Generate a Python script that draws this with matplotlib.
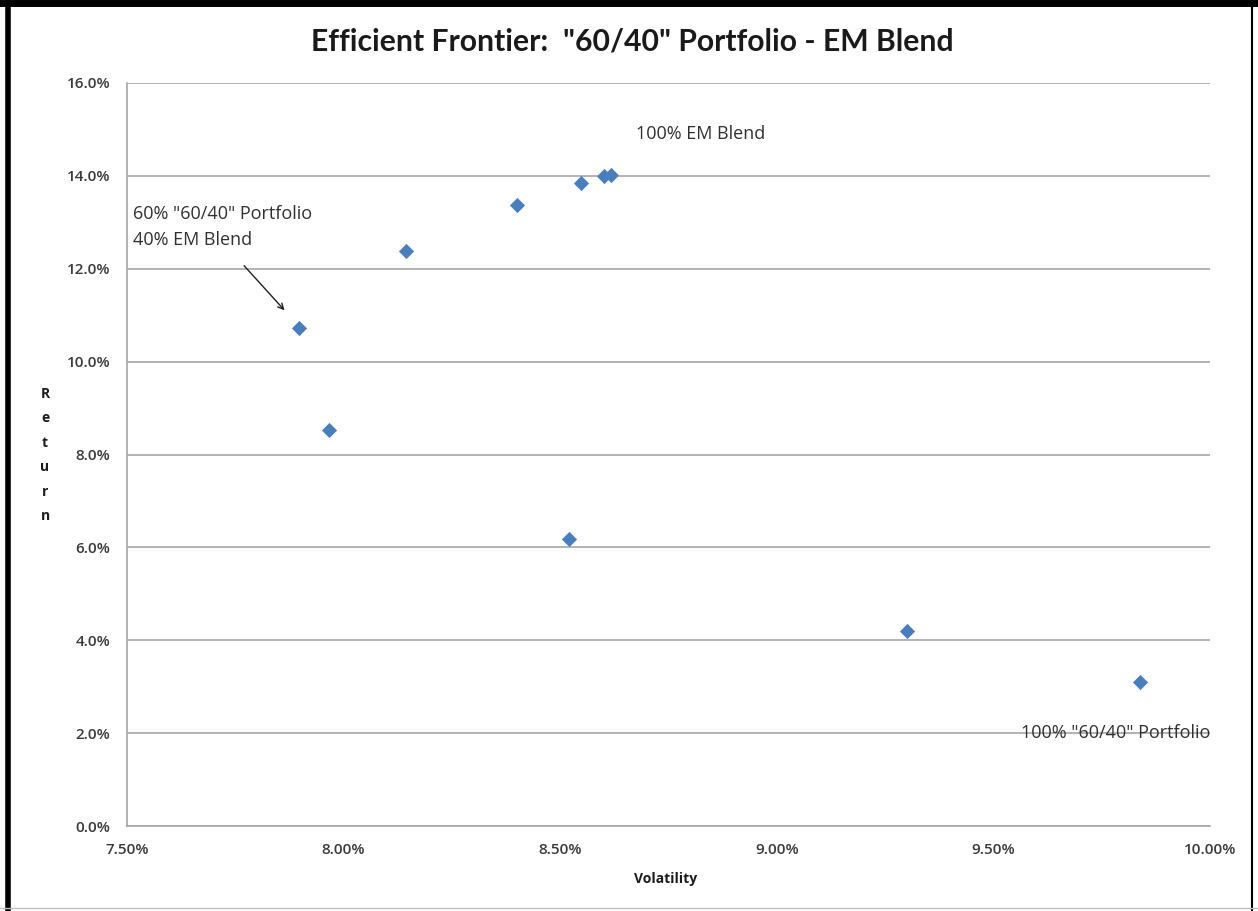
import matplotlib
matplotlib.use("Agg")
import matplotlib.pyplot as plt
from matplotlib.lines import Line2D
from matplotlib.ticker import FuncFormatter

# Portfolio mixes: volatility (%) and return (%)
volatility = [7.897, 7.966, 8.144, 8.400, 8.548, 8.601, 8.617, 8.520, 9.300, 9.838]
returns = [10.72, 8.53, 12.38, 13.37, 13.85, 14.00, 14.02, 6.18, 4.20, 3.10]

x_ticks = [7.50, 8.00, 8.50, 9.00, 9.50, 10.00]
y_ticks = [0, 2, 4, 6, 8, 10, 12, 14, 16]

title = 'Efficient Frontier:  "60/40" Portfolio - EM Blend'

plt.rcParams['font.family'] = ['Open Sans', 'DejaVu Sans']

fig = plt.figure(figsize=(12.58, 9.11), dpi=100)
W, H = 1258, 911
ax = fig.add_axes([127 / W, 1 - 826 / H, (1210 - 127) / W, (826 - 83) / H])

ax.scatter(volatility, returns, marker='D', s=60, color='#4a7ebb', zorder=3,
           linewidths=0)

ax.set_xlim(x_ticks[0], x_ticks[-1])
ax.set_ylim(y_ticks[0], y_ticks[-1])
ax.set_xticks(x_ticks)
ax.set_yticks(y_ticks)
ax.xaxis.set_major_formatter(FuncFormatter(lambda v, p: f"{v:.2f}%"))
ax.yaxis.set_major_formatter(FuncFormatter(lambda v, p: f"{v:.1f}%"))
ax.tick_params(axis='both', length=0, labelsize=11, colors='#3a3a3a')
for lbl in ax.get_xticklabels() + ax.get_yticklabels():
    lbl.set_fontweight('semibold')
ax.tick_params(axis='x', pad=12)
ax.tick_params(axis='y', pad=12)
ax.grid(axis='y', color='#a6a6a6', linewidth=1.2)
ax.set_axisbelow(True)
for s in ['top', 'right']:
    ax.spines[s].set_visible(False)
for s in ['left', 'bottom']:
    ax.spines[s].set_color('#a6a6a6')
    ax.spines[s].set_linewidth(1.2)

# Annotations
note_kw = dict(fontsize=13, color='#303030', va='center')
ax.text(8.675, 14.9, '100% EM Blend', ha='left', **note_kw)
ax.text(7.513, 12.9, '60% "60/40" Portfolio\n40% EM Blend', ha='left',
        linespacing=1.55, **note_kw)
ax.annotate('', xy=(7.868, 11.06), xytext=(7.766, 12.11),
            arrowprops=dict(arrowstyle='->', color='#202020', lw=1.0))
ax.text(10.0, 2.0, '100% "60/40" Portfolio', ha='right', **note_kw)

fig.text(632 / W, 1 - 42 / H, title, fontsize=21.7, fontweight='bold',
         ha='center', va='center', color='#1a1a1a',
         family=['Lato', 'DejaVu Sans'])
fig.text(666 / W, 1 - 879 / H, 'Volatility', fontsize=10, fontweight='bold',
         ha='center', va='center', color='#1a1a1a')
fig.text(45 / W, 1 - 455 / H, 'R\ne\nt\nu\nr\nn', fontsize=10,
         fontweight='bold', ha='center', va='center', color='#1a1a1a',
         linespacing=1.95)

# Page frame around the chart
fig.add_artist(Line2D([8 / W, 8 / W], [0, 1], transform=fig.transFigure,
                      color='black', lw=4))
fig.add_artist(Line2D([0, 1], [1 - 3 / H, 1 - 3 / H], transform=fig.transFigure,
                      color='black', lw=5))
fig.add_artist(Line2D([1252 / W, 1252 / W], [0, 1], transform=fig.transFigure,
                      color='black', lw=1.5))
fig.add_artist(Line2D([0, 1], [1 - 908 / H, 1 - 908 / H],
                      transform=fig.transFigure, color='#bfbfbf', lw=1))

fig.savefig('out.png', dpi=100)
